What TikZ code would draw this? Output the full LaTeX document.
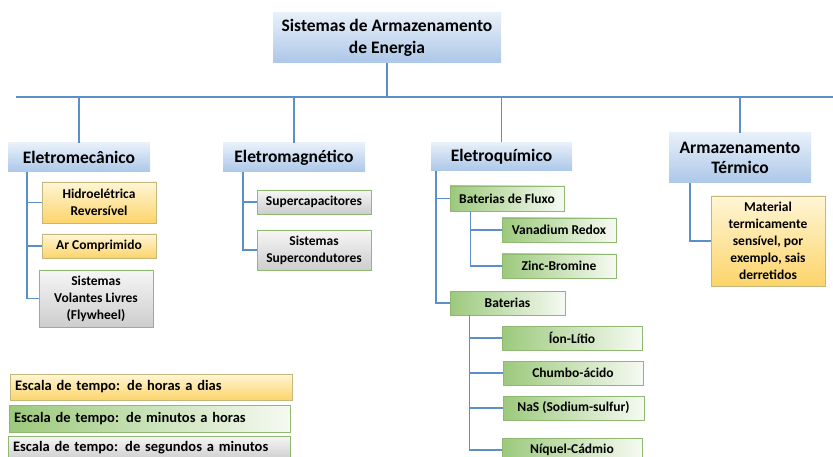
\documentclass[tikz,border=0pt]{standalone}
\usepackage{fontspec}
\setmainfont{Carlito}
\usepackage{tikz}
\usetikzlibrary{positioning}
\usepackage{color}

\definecolor{linkblue}{RGB}{91,143,201}
\definecolor{bluetop}{RGB}{232,240,250}
\definecolor{bluebot}{RGB}{172,199,232}
\definecolor{yeltop}{RGB}{255,246,214}
\definecolor{yelbot}{RGB}{252,212,106}
\definecolor{yeledge}{RGB}{198,183,124}
\definecolor{grnleft}{RGB}{156,201,124}
\definecolor{grnright}{RGB}{246,250,242}
\definecolor{grnedge}{RGB}{143,184,114}
\definecolor{graytop}{RGB}{246,246,246}
\definecolor{graybot}{RGB}{205,205,205}

\tikzset{
  link/.style={draw=linkblue,line width=1.4pt},
  basebox/.style={inner sep=0pt,align=center,font=\fontsize{13.5}{17}\selectfont\bfseries},
  catbox/.style={basebox,top color=bluetop,bottom color=bluebot,
    font=\fontsize{17.5}{20}\selectfont\bfseries},
  hourbox/.style={basebox,draw=yeledge,line width=0.6pt,top color=yeltop,bottom color=yelbot},
  minbox/.style={basebox,draw=grnedge,line width=0.6pt,left color=grnleft,right color=grnright},
  secbox/.style={basebox,draw=grnedge,line width=0.6pt,top color=graytop,bottom color=graybot},
  legbox/.style={align=left,font=\fontsize{14.5}{17}\selectfont\bfseries},
  size/.style 2 args={minimum width=#1pt,minimum height=#2pt}
}

\begin{document}
\begin{tikzpicture}[x=1pt,y=-1pt]
\useasboundingbox (0,0) rectangle (833,457);
\path
(387,38) node [catbox,size={228}{50},font=\fontsize{17.5}{21.5}\selectfont\bfseries](root) {Sistemas de Armazenamento\\de Energia}
(79,157.5) node [catbox,size={142}{29}](emec) {Eletromecânico}
(294,157.5) node [catbox,size={142}{29}](emag) {Eletromagnético}
(501.5,156.5) node [catbox,size={141}{28}](equi) {Eletroquímico}
(740,158) node [catbox,size={142}{50}](term) {Armazenamento\\Térmico};

% eletromecanico
\path
(99,202.5) node [hourbox,size={114}{41}](hidro) {Hidroelétrica\\Reversível}
(99,246) node [hourbox,size={114}{24}](ar) {Ar Comprimido}
(96,298.5) node [secbox,size={114}{57}](fly) {Sistemas\\Volantes Livres\\(Flywheel)};

% eletromagnetico
\path
(314,202) node [secbox,size={114}{24}](supcap) {Supercapacitores}
(314,250) node [secbox,size={114}{40}](supcond) {Sistemas\\Supercondutores};

% eletroquimico
\path
(507,198.5) node [minbox,size={114}{25}](fluxo) {Baterias de Fluxo}
(559,230) node [minbox,size={114}{24}](vana) {Vanadium Redox}
(559,266) node [minbox,size={114}{24}](zinc) {Zinc-Bromine}
(507.5,303) node [minbox,size={115}{24}](bat) {Baterias}
(572,338) node [minbox,size={140}{24}](ion) {Íon-Lítio}
(573,373) node [minbox,size={140}{24}](chumbo) {Chumbo-ácido}
(573.5,408) node [minbox,size={141}{24}](nas) {NaS (Sodium-sulfur)}
(572,450) node [minbox,size={140}{24}](niq) {Níquel-Cádmio};

% termico
\path
(768,241) node [hourbox,size={114}{90}](mat) {Material\\termicamente\\sensível, por\\exemplo, sais\\derretidos};

% legenda
\path
(151,387) node [hourbox,legbox,size={282}{26},text width=272pt](leg1) {Escala de tempo: de horas a dias}
(149.5,418.5) node [minbox,legbox,size={281}{27},text width=271pt](leg2) {Escala de tempo: de minutos a horas}
(149,448) node [secbox,legbox,size={282}{24},text width=272pt](leg3) {Escala de tempo: de segundos a minutos};

% barramento
\coordinate (busL) at (16,97);
\coordinate (busR) at (833,97);
\draw [link](busL) --(busR);
\draw [link](root.south) --(root.south |- busL);
\foreach \n in {emec,emag,equi,term}
  \draw [link](\n.north) --(\n.north |- busL);

\draw [link](emec.south west) ++(19,0) |- (hidro.west);
\draw [link](emec.south west) ++(19,0) |- (ar.west);
\draw [link](emec.south west) ++(19,0) |- (fly.west);
\draw [link](emag.south west) ++(20,0) |- (supcap.west);
\draw [link](emag.south west) ++(20,0) |- (supcond.west);
\draw [link](equi.south west) ++(5,0) |- (fluxo.west);
\draw [link](equi.south west) ++(5,0) |- (bat.west);
\draw [link](fluxo.south west) ++(21,0) |- (vana.west);
\draw [link](fluxo.south west) ++(21,0) |- (zinc.west);
\foreach \n in {ion,chumbo,nas,niq}
  \draw [link](bat.south west) ++(20,0) |- (\n.west);
\draw [link](term.south west) ++(21,0) |- (mat.west);

\end{tikzpicture}
\end{document}
